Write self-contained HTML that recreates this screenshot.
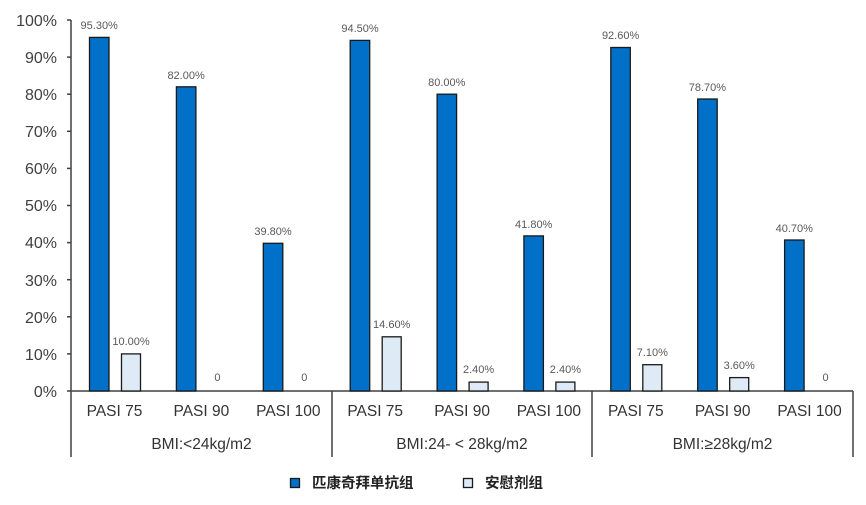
<!DOCTYPE html>
<html><head><meta charset="utf-8"><style>
html,body{margin:0;padding:0;background:#fff;}
svg text{font-family:"Liberation Sans","Noto Sans CJK SC",sans-serif;}
</style></head><body>
<svg width="866" height="500" viewBox="0 0 866 500" xmlns="http://www.w3.org/2000/svg">
<g font-size="16" fill="#404040" text-anchor="end">
<text x="57" y="26">100%</text>
<text x="57" y="63">90%</text>
<text x="57" y="100">80%</text>
<text x="57" y="137">70%</text>
<text x="57" y="174">60%</text>
<text x="57" y="211">50%</text>
<text x="57" y="248">40%</text>
<text x="57" y="286">30%</text>
<text x="57" y="323">20%</text>
<text x="57" y="360">10%</text>
<text x="57" y="397">0%</text>
</g>
<g stroke="#404040" stroke-width="1.5">
<line x1="71" y1="20" x2="71" y2="457"/>
<line x1="67" y1="20" x2="71" y2="20"/><line x1="67" y1="57.1" x2="71" y2="57.1"/>
<line x1="67" y1="94.2" x2="71" y2="94.2"/><line x1="67" y1="131.3" x2="71" y2="131.3"/>
<line x1="67" y1="168.4" x2="71" y2="168.4"/><line x1="67" y1="205.5" x2="71" y2="205.5"/>
<line x1="67" y1="242.6" x2="71" y2="242.6"/><line x1="67" y1="279.7" x2="71" y2="279.7"/>
<line x1="67" y1="316.8" x2="71" y2="316.8"/><line x1="67" y1="353.9" x2="71" y2="353.9"/>
<line x1="67" y1="391" x2="71" y2="391"/>
<line x1="71" y1="391" x2="853" y2="391"/>
<line x1="332" y1="391" x2="332" y2="457"/>
<line x1="592" y1="391" x2="592" y2="457"/>
<line x1="853" y1="391" x2="853" y2="457"/>
</g>
<g fill="#0070c8" stroke="#1a1a1a" stroke-width="1.3">
<rect x="89.5" y="37.4" width="19.5" height="353.6"/>
<rect x="176.4" y="86.8" width="19.5" height="304.2"/>
<rect x="263.3" y="243.3" width="19.5" height="147.7"/>
<rect x="350.2" y="40.4" width="19.5" height="350.6"/>
<rect x="437.1" y="94.2" width="19.5" height="296.8"/>
<rect x="523.9" y="235.9" width="19.5" height="155.1"/>
<rect x="610.8" y="47.5" width="19.5" height="343.5"/>
<rect x="697.7" y="99" width="19.5" height="292"/>
<rect x="784.6" y="240" width="19.5" height="151"/>
</g>
<g fill="#deebf7" stroke="#1a1a1a" stroke-width="1.3">
<rect x="121.5" y="353.9" width="19" height="37.1"/>
<rect x="382.2" y="336.8" width="19" height="54.2"/>
<rect x="469.1" y="382.1" width="19" height="8.9"/>
<rect x="555.9" y="382.1" width="19" height="8.9"/>
<rect x="642.8" y="364.7" width="19" height="26.3"/>
<rect x="729.7" y="377.6" width="19" height="13.4"/>
</g>
<g font-size="11" fill="#595959" text-anchor="middle">
<text x="99.2" y="29">95.30%</text>
<text x="186.1" y="79">82.00%</text>
<text x="273" y="235">39.80%</text>
<text x="360" y="32">94.50%</text>
<text x="446.8" y="86">80.00%</text>
<text x="533.7" y="228">41.80%</text>
<text x="620.6" y="39">92.60%</text>
<text x="707.4" y="91">78.70%</text>
<text x="794.3" y="232">40.70%</text>
<text x="131" y="345">10.00%</text>
<text x="217.4" y="381">0</text>
<text x="304.3" y="381">0</text>
<text x="391.7" y="328">14.60%</text>
<text x="478.6" y="373">2.40%</text>
<text x="565.4" y="373">2.40%</text>
<text x="652.3" y="356">7.10%</text>
<text x="739.2" y="369">3.60%</text>
<text x="825.6" y="381">0</text>
</g>
<g font-size="15.5" fill="#333" text-anchor="middle">
<text x="114.5" y="416">PASI 75</text>
<text x="201.4" y="416">PASI 90</text>
<text x="288.3" y="416">PASI 100</text>
<text x="375.2" y="416">PASI 75</text>
<text x="462.1" y="416">PASI 90</text>
<text x="548.9" y="416">PASI 100</text>
<text x="635.8" y="416">PASI 75</text>
<text x="722.7" y="416">PASI 90</text>
<text x="809.6" y="416">PASI 100</text>
<text x="201.5" y="449">BMI:&lt;24kg/m2</text>
<text x="462" y="449">BMI:24- &lt; 28kg/m2</text>
<text x="722.5" y="449">BMI:≥28kg/m2</text>
</g>
<rect x="290.5" y="478.5" width="9" height="9" fill="#0070c8" stroke="#1a1a1a" stroke-width="1.3"/>
<text x="312" y="488" font-size="14.5" font-weight="bold" fill="#222">匹康奇拜单抗组</text>
<rect x="463.5" y="478.5" width="9" height="9" fill="#deebf7" stroke="#1a1a1a" stroke-width="1.3"/>
<text x="485" y="488" font-size="14.5" font-weight="bold" fill="#222">安慰剂组</text>
</svg>
</body></html>
